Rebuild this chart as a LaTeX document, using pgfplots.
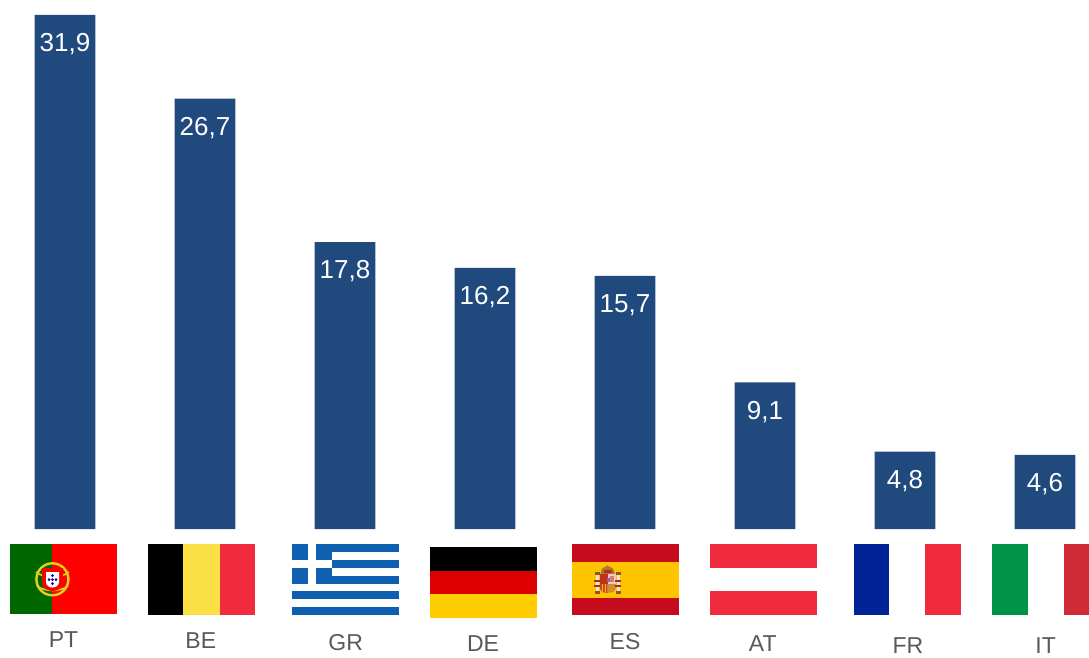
\documentclass[border=0pt]{standalone}
\usepackage{fontspec}
\setmainfont{Liberation Sans}
\usepackage{pgfplots}
\pgfplotsset{compat=1.18}
\definecolor{barblue}{HTML}{204A7D}
\definecolor{lbl}{HTML}{595959}
\definecolor{flagred}{HTML}{EF2B3D}
\definecolor{grblue}{HTML}{0F5FB0}
\definecolor{ptgold}{HTML}{E2D21A}
\newcommand{\cc}[3]{\node[anchor=center,inner sep=0pt,text=lbl,font=\fontsize{23}{23}\selectfont] at (#1,#2) {#3};}
\begin{document}
\begin{tikzpicture}
\useasboundingbox (0,0) rectangle (1089pt,657pt);
\begin{axis}[
  at={(0,0)}, anchor=south west,
  scale only axis, width=1089pt, height=657pt,
  hide axis, clip=false,
  xmin=-0.46429, xmax=7.31429,
  ymin=-7.94, ymax=32.817,
  ybar, bar width=60.6pt,
  nodes near coords,
  every node near coord/.append style={anchor=center,yshift=-29.5pt,text=white,inner sep=0pt,
    font=\fontsize{26}{26}\selectfont,
    /pgf/number format/.cd,fixed,fixed zerofill,precision=1,use comma,assume math mode=true},
]
\addplot[fill=barblue,draw=none] coordinates {(0,31.9)(1,26.7)(2,17.8)(3,16.2)(4,15.7)(5,9.1)(6,4.8)(7,4.6)};
\end{axis}
\begin{scope}[yshift=657pt,x=1pt,y=-1pt]
% Portugal
\fill[fill={rgb,255:red,0;green,102;blue,0}] (10,544) rectangle (52.3,614);
\fill[red] (52.3,544) rectangle (117,614);
\draw[ptgold,line width=2.4pt] (52.4,579.3) circle (16);
\draw[ptgold,line width=1.6pt] (36,572) .. controls (45,579) and (60,579) .. (69,572);
\draw[ptgold,line width=1.6pt] (37,586) .. controls (45,592) and (60,592) .. (68,586);
\fill[red] (42,568) -- (63,568) -- (63,583) .. controls (63,589) and (56,591) .. (52.5,591) .. controls (49,591) and (42,589) .. (42,583) -- cycle;
\fill[white] (46,572) -- (59,572) -- (59,582) .. controls (59,586) and (55,587.5) .. (52.5,587.5) .. controls (50,587.5) and (46,586) .. (46,582) -- cycle;
\foreach \a/\b in {52.5/575.5,49/579.5,52.5/579.5,56/579.5,52.5/583.5}{\fill[blue!70!black] (\a,\b) circle (1.5);}
% Belgium
\fill[black] (148,544) rectangle (183.3,615);
\fill[fill={rgb,255:red,250;green,224;blue,66}] (183.3,544) rectangle (219.5,615);
\fill[flagred] (219.5,544) rectangle (255,615);
% Greece
\foreach \t/\b in {544/552,560/568,576/583.5,591/599,607/615}{\fill[grblue] (292,\t) rectangle (399,\b);}
\fill[grblue] (292,544) rectangle (331.5,583.5);
\fill[white] (308,544) rectangle (315.7,583.5);
\fill[white] (292,560) rectangle (331.5,568);
% Germany
\fill[black] (430,547) rectangle (537,571);
\fill[fill={rgb,255:red,221;green,0;blue,0}] (430,571) rectangle (537,594);
\fill[fill={rgb,255:red,255;green,206;blue,0}] (430,594) rectangle (537,618);
% Spain
\fill[fill={rgb,255:red,198;green,11;blue,30}] (572,544) rectangle (679,615);
\fill[fill={rgb,255:red,255;green,196;blue,0}] (572,561.5) rectangle (679,597.5);
% crown
\fill[fill={rgb,255:red,175;green,120;blue,40}] (600.5,574) -- (602,568.5) -- (607.5,565.5) -- (613,568.5) -- (615,574) -- cycle;
\fill[fill={rgb,255:red,180;green,45;blue,40}] (603.5,569.5) rectangle (612,572.5);
% shield
\fill[fill={rgb,255:red,190;green,50;blue,30}] (600,574) rectangle (607.5,584);
\fill[fill={rgb,255:red,240;green,200;blue,195}] (607.5,574) rectangle (615.5,584);
\fill[fill={rgb,255:red,225;green,120;blue,110}] (609.5,576) rectangle (613.5,582);
\fill[fill={rgb,255:red,200;green,70;blue,30}] (600,584) -- (607.5,584) -- (607.5,593) -- (602,592) -- (600,589) -- cycle;
\foreach \q in {601.5,604.5}{\fill[fill={rgb,255:red,240;green,190;blue,40}] (\q,584) rectangle (\q+1.3,591.5);}
\fill[fill={rgb,255:red,215;green,140;blue,50}] (607.5,584) -- (615.5,584) -- (615.5,589) -- (613,592) -- (607.5,593) -- cycle;
\fill[fill={rgb,255:red,120;green,120;blue,150}] (606.5,578) rectangle (609.5,582);
% pillars
\foreach \p in {595.5,616.5}{
\fill[fill={rgb,255:red,235;green,228;blue,210}] (\p,575) rectangle (\p+3,592);
\fill[fill={rgb,255:red,140;green,85;blue,45}] (\p-1,572) rectangle (\p+4,575);
\fill[fill={rgb,255:red,140;green,85;blue,45}] (\p-1,591) rectangle (\p+4,593.5);
\fill[fill={rgb,255:red,170;green,40;blue,40}] (\p-1.5,580) rectangle (\p+4.5,582);
\fill[fill={rgb,255:red,170;green,40;blue,40}] (\p-1.5,585) rectangle (\p+4.5,587);
}
% Austria
\fill[flagred] (710,544) rectangle (817,567.5);
\fill[flagred] (710,591) rectangle (817,615);
% France
\fill[fill={rgb,255:red,0;green,35;blue,149}] (854,544) rectangle (889.3,615);
\fill[flagred] (925.3,544) rectangle (961,615);
% Italy
\fill[fill={rgb,255:red,0;green,146;blue,70}] (992,544) rectangle (1027.5,615);
\fill[fill={rgb,255:red,206;green,43;blue,55}] (1063.7,544) rectangle (1089,615);
% labels
\cc{63.5}{640}{PT}
\cc{200.8}{640.5}{BE}
\cc{345.7}{642.5}{GR}
\cc{483}{643.7}{DE}
\cc{625}{642}{ES}
\cc{762.7}{644}{AT}
\cc{908}{645.5}{FR}
\cc{1045.7}{645.5}{IT}
\end{scope}
\end{tikzpicture}
\end{document}
